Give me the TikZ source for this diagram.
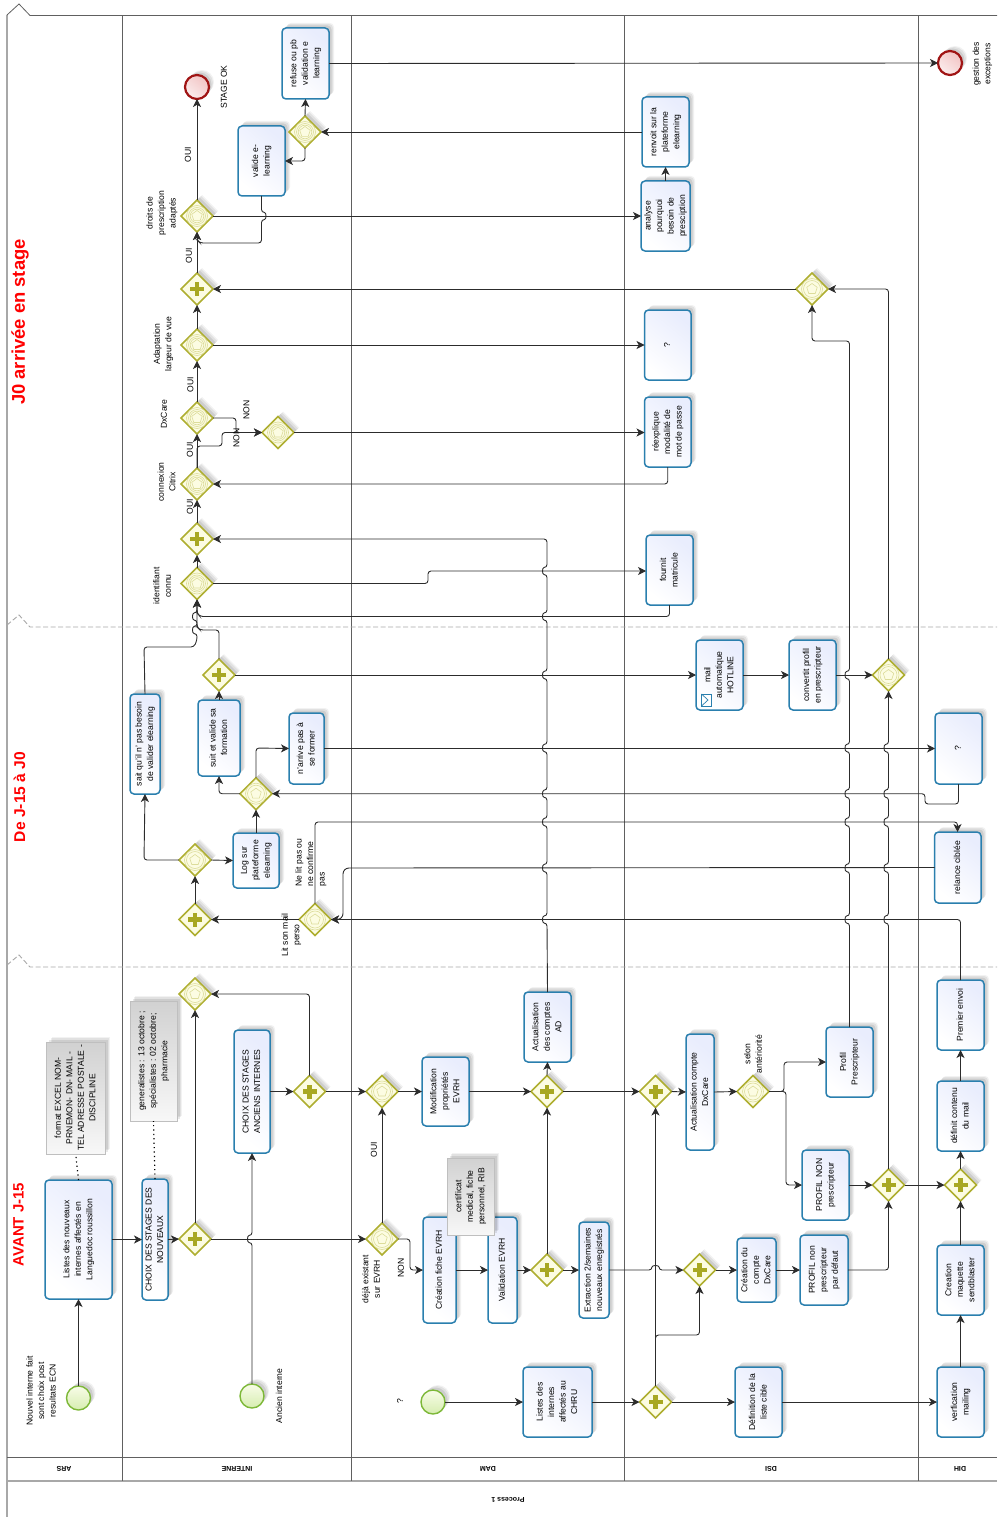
\documentclass[tikz,border=0pt]{standalone}
\usepackage{fontspec}
\usepackage{graphicx}
\setmainfont{Liberation Sans}
\usetikzlibrary{shapes.geometric,arrows.meta,shadows}
\definecolor{taskb}{HTML}{2A7FAE}
\definecolor{taskf}{HTML}{E9EDFD}
\definecolor{gwb}{HTML}{AEAE30}
\definecolor{gwf}{HTML}{FCFCE2}
\definecolor{gwi}{HTML}{DCDC9A}
\definecolor{gwc}{HTML}{A8A822}
\definecolor{lane}{HTML}{606060}
\definecolor{flowc}{HTML}{2C2C2C}
\definecolor{phase}{HTML}{A8A8A8}
\definecolor{titlered}{HTML}{FF0000}
\definecolor{startb}{HTML}{7DB838}
\definecolor{starta}{HTML}{D6EDB0}
\definecolor{startc}{HTML}{F8FCE8}
\definecolor{endb}{HTML}{A01414}
\definecolor{enda}{HTML}{F2C4C4}
\definecolor{endc}{HTML}{FBEDED}
\tikzset{
  softshadow/.style={
    general shadow={shadow xshift=5pt,shadow yshift=5pt,opacity=.05,fill=black},
    general shadow={shadow xshift=4pt,shadow yshift=4pt,opacity=.07,fill=black},
    general shadow={shadow xshift=2.5pt,shadow yshift=2.5pt,opacity=.09,fill=black}},
  bptask/.style={rectangle,rounded corners=4pt,draw=taskb,line width=1.5pt,softshadow,
    shading=axis,top color=taskf,bottom color=white,shading angle=-40,
    inner sep=0pt,outer sep=0pt,font=\txt},
  gwnode/.style={diamond,draw=gwb,line width=1.5pt,fill=gwf,softshadow,minimum width=32pt,minimum height=32pt,
    aspect=1,inner sep=0pt,outer sep=0pt},
  startev/.style={circle,draw=startb,line width=1.4pt,softshadow,minimum size=24pt,inner sep=0pt,outer sep=0pt,
    shading=axis,top color=startc,bottom color=starta,shading angle=0},
  endev/.style={circle,draw=endb,line width=2.2pt,softshadow,minimum size=24pt,inner sep=0pt,outer sep=0pt,
    shading=axis,top color=enda,bottom color=endc,shading angle=-40},
  notebox/.style={rectangle,draw=black!25,line width=.6pt,softshadow,shading=axis,top color=black!18,bottom color=black!3,
    shading angle=0,inner sep=0pt,outer sep=0pt,font=\txt},
  flow/.style={draw=flowc,line width=.9pt,rounded corners=3pt,-{Stealth[length=8pt,width=8pt,inset=2.2pt]}},
  assoc/.style={draw=black,line width=1.2pt,dash pattern=on 1.2pt off 3.2pt},
  lab/.style={rotate=90,align=center,inner sep=0pt,outer sep=0pt,font=\txt},
  lanehead/.style={rotate=180,inner sep=0pt,outer sep=0pt,font=\hdr},
  lanel/.style={draw=lane,line width=.9pt},
  phasel/.style={draw=phase,line width=.9pt,dash pattern=on 5pt off 2.5pt},
  gwicon/.style={draw=gwi,line width=.6pt},
  titlelab/.style={rotate=90,text=titlered,inner sep=0pt,outer sep=0pt}
}
\newcommand\txt{\fontsize{8.6}{11.5}\selectfont}
\newcommand\hdr{\fontsize{7}{8}\selectfont\bfseries}
\newcommand\rt[1]{\rotatebox{90}{\begin{tabular}{@{}c@{}}#1\end{tabular}}}
% task: name x1 y1 x2 y2 text
\newcommand\bptasknode[6]{\node[bptask,minimum width={(#4-#2)*1pt},minimum height={(#5-#3)*1pt}] (#1) at ({(#2+#4)/2},{(#3+#5)/2}) {\rt{#6}};}
\newcommand\notenode[6]{\node[notebox,minimum width={(#4-#2)*1pt},minimum height={(#5-#3)*1pt}] (#1) at ({(#2+#4)/2},{(#3+#5)/2}) {\rt{#6}};}
\newcommand\gwplus[3]{\node[gwnode] (#1) at (#2,#3) {};
  \fill[gwc] (#2-7,#3-2.3) rectangle (#2+7,#3+2.3);
  \fill[gwc] (#2-2.3,#3-7) rectangle (#2+2.3,#3+7);}
\newcommand\gwring[3]{\node[gwnode] (#1) at (#2,#3) {};
  \draw[gwicon] (#2,#3) circle[radius=10.5];
  \draw[gwicon] (#2,#3) circle[radius=8.5];
  \draw[gwicon] (#2,#3)+(270:5.5)--+(198:5.5)--+(126:5.5)--+(54:5.5)--+(342:5.5)--cycle;}
\newcommand\gwringb[3]{\gwring{#1}{#2}{#3}
  \draw[gwicon] (#2,#3) circle[radius=6.8];}
\newcommand\hu[2]{-- (#1,#2+3.5) .. controls (#1-5,#2+3.5) and (#1-5,#2-3.5) .. (#1,#2-3.5)}
\newcommand\hd[2]{-- (#1,#2-3.5) .. controls (#1+5,#2-3.5) and (#1+5,#2+3.5) .. (#1,#2+3.5)}
\newcommand\hr[2]{-- (#1-3.5,#2) .. controls (#1-3.5,#2-5) and (#1+3.5,#2-5) .. (#1+3.5,#2)}
\begin{document}
\begin{tikzpicture}[x=1pt,y=-1pt]
\useasboundingbox (0,0) rectangle (997,1517);
% ---- pool and lanes
\draw[phase,line width=1.6pt] (7,15) -- (7,1517);
\draw[draw=lane,line width=.8pt] (7,15) -- (19,4) -- (30,15.5) -- (997,15.5);
\draw[lanel] (7,1457) -- (997,1457);
\draw[draw=phase,line width=1.4pt] (7,1481) -- (997,1481);
\foreach \lx in {122,351.5,624.5,918}{\draw[lanel] (\lx,15.5) -- (\lx,1481);}
\draw[phasel] (7,625) -- (19,615) -- (30,627) -- (997,627);
\draw[phasel] (7,965) -- (19,955) -- (30,967) -- (997,967);
% ---- headers
\node[lanehead] (hars) at (64,1469) {ARS};
\node[lanehead] (hint) at (237,1469) {INTERNE};
\node[lanehead] (hdam) at (488,1469) {DAM};
\node[lanehead] (hdsi) at (771,1469) {DSI};
\node[lanehead] (hdih) at (960,1469) {DIH};
\node[lanehead] (hproc) at (508,1500) {Process 1};
\node[titlelab,font=\fontsize{15}{16}\selectfont\bfseries] (t1) at (18.5,1224.5) {AVANT J-15};
\node[titlelab,font=\fontsize{15.6}{17}\selectfont\bfseries] (t2) at (19.5,797) {De J-15 à J0};
\node[titlelab,font=\fontsize{18.4}{20}\selectfont\bfseries] (t3) at (20,322) {J0 arrivée en stage};
% ---- events
\node[startev] (s1) at (78.5,1398) {};
\node[startev] (s2) at (252,1396) {};
\node[startev] (s3) at (433,1402) {};
\node[endev] (e1) at (197,87) {};
\node[endev] (e2) at (950,63) {};
% ---- tasks
\bptasknode{listes}{45}{1180}{112}{1299}{Listes des nouveaux\\internes affectés en\\Languedoc roussillon}
\bptasknode{choixn}{142}{1179}{168}{1300}{CHOIX DES STAGES DES\\NOUVEAUX}
\bptasknode{choixa}{234}{1030}{270}{1153}{CHOIX DES STAGES\\ANCIENS INTERNES}
\bptasknode{modif}{422}{1057}{469}{1126}{Modification\\propriétés\\EVRH}
\bptasknode{creaf}{423}{1217}{456}{1323}{Création fiche EVRH}
\bptasknode{valid}{488}{1217}{517}{1323}{Validation EVRH}
\bptasknode{actad}{524}{992}{571}{1062}{Actualisation\\des comptes\\AD}
\bptasknode{extr}{579}{1222}{609}{1318}{Extraction 2/semaines\\nouveaux enregistrés}
\bptasknode{linter}{523}{1367}{592}{1437}{Listes des\\internes\\affectés au\\CHRU}
\bptasknode{actdx}{686}{1034}{714}{1150}{Actualisation compte\\DxCare}
\bptasknode{pp}{826}{1027}{873}{1097}{Profil\\Prescripteur}
\bptasknode{pnon}{802}{1150}{849}{1220}{PROFIL NON\\prescripteur}
\bptasknode{ccompte}{737}{1238}{776}{1302}{Création du\\compte\\DxCare}
\bptasknode{pdef}{800}{1235}{848}{1305}{PROFIL non\\prescripteur\\par défaut}
\bptasknode{defl}{735}{1367}{782}{1437}{Définition de la\\liste cible}
\bptasknode{verif}{937}{1367}{984}{1437}{verfication\\mailing}
\bptasknode{maq}{937}{1245}{984}{1315}{Creation\\maquette\\sendblaster}
\bptasknode{defc}{937}{1081}{984}{1151}{définit contenu\\du mail}
\bptasknode{prem}{937}{980}{984}{1050}{Premier envoi}
\bptasknode{sait}{130}{694}{160}{794}{sait qu'il n' pas besoin\\de valider elearning}
\bptasknode{suit}{198}{700}{240}{776}{suit et valide sa\\formation}
\bptasknode{arrive}{289}{713}{324}{784}{n'arrive pas à\\se former}
\bptasknode{logs}{233}{833}{279}{888}{Log sur\\plateforme\\elearning}
\bptasknode{mailh}{696}{640}{743}{710}{mail\\automatique\\HOTLINE}
\bptasknode{conv}{789}{640}{836}{710}{convertit profil\\en prescripteur}
\bptasknode{qa}{935}{713}{982}{784}{?}
\bptasknode{relance}{934.5}{832}{981}{903}{relance ciblée}
\bptasknode{refuse}{282}{28}{329}{99}{refuse  ou pb\\validation e\\learning}
\bptasknode{valel}{238}{126}{285}{196}{valide e-\\learning}
\bptasknode{renv}{642}{97}{689}{167}{renvoit sur la\\plateforme\\elearning}
\bptasknode{anal}{641}{181}{690}{251}{analyse\\pourquoi\\besoin de\\presciption}
\bptasknode{qb}{644.5}{310}{691}{380}{?}
\bptasknode{reex}{644.5}{397}{691}{467}{réexplique\\modalité de\\mot de passe}
\bptasknode{four}{646}{535}{693}{605}{fournit\\matricule}
% mail icon
\draw[taskb,line width=.7pt,fill=white] (701.5,694) rectangle (711,706);
\draw[taskb,line width=.7pt] (701.5,694) -- (708,700) -- (701.5,706);
% ---- gateways
\gwplus{pa}{195}{1239}
\gwring{gtop}{195}{994}
\gwplus{pb}{309.5}{1091.5}
\gwring{gx}{382}{1091.5}
\gwring{gd}{382}{1239}
\gwplus{pc}{547}{1091.5}
\gwplus{pd}{547}{1270}
\gwplus{pe}{655.5}{1091.5}
\gwplus{pf}{699.5}{1270}
\gwplus{pg}{655.5}{1402}
\gwring{gsel}{753}{1091.5}
\gwplus{ph}{888.5}{1185}
\gwplus{pi}{960.5}{1185}
\gwplus{pj}{219}{675}
\gwring{gl}{256}{793.7}
\gwring{gm}{195}{860}
\gwplus{pk}{195}{919.5}
\gwring{gn}{315}{919.5}
\gwring{go}{888.5}{675}
\gwringb{gp}{305}{132}
\gwringb{gq}{197}{216}
\gwplus{pl}{197}{289}
\gwringb{gad}{197}{345}
\gwringb{gdx}{197}{418}
\gwringb{gnon}{278}{432.5}
\gwringb{gco}{197}{484}
\gwplus{pm}{197}{539}
\gwringb{gid}{197}{583.5}
\gwring{gr}{812}{289}
% ---- connectors
\draw[flow] (s1) -- (listes);
\draw[flow] (listes.east) -- (choixn.west);
\draw[flow] (choixn.east) -- (pa.west);
\draw[flow] (pa.north) -- (gtop.south);
\draw[flow] (pa.east) -- (gd.west);
\draw[flow] (s2) \hu{252}{1239} -- (choixa.south);
\draw[flow] (choixa.east) -- (pb.west);
\draw[flow] (pb.north) -- (309.5,994) -- (gtop.east);
\draw[flow] (pb.east) -- (gx.west);
\draw[flow] (gd.north) -- (gx.south);
\draw[flow] (gd.east) -- (410,1239) -- (410,1270) -- (creaf.west);
\draw[flow] (gx.east) -- (modif.west);
\draw[flow] (modif.east) -- (pc.west);
\draw[flow] (creaf.east) -- (valid.west);
\draw[flow] (valid.east) -- (pd.west);
\draw[flow] (pd.north) -- (pc.south);
\draw[flow] (pd.east) -- (extr.west);
\draw[flow] (pc.north) -- (actad.south);
\draw[flow] (actad.north) \hu{547}{919.5} \hu{547}{868} \hu{547}{822} \hu{547}{793.7} \hu{547}{748} \hu{547}{675} \hu{547}{616.5} \hu{547}{571} -- (547,539) -- (pm.east);
\draw[flow] (pc.east) -- (pe.west);
\draw[flow] (extr.east) \hr{655.5}{1270} -- (pf.west);
\draw[flow] (s3) -- (linter.west);
\draw[flow] (linter.east) -- (pg.west);
\draw[flow] (pg.north) -- (pe.south);
\draw[flow] (pg.north) -- (655.5,1335) -- (699.5,1335) -- (pf.south);
\draw[flow] (pg.east) -- (defl.west);
\draw[flow] (defl.east) -- (verif.west);
\draw[flow] (verif.north) -- (maq.south);
\draw[flow] (maq.north) -- (pi.south);
\draw[flow] (pi.north) -- (defc.south);
\draw[flow] (defc.north) -- (prem.south);
\draw[flow] (prem.north) -- (960.5,919.5) -- (gn.east);
\draw[flow] (pe.east) -- (actdx.west);
\draw[flow] (actdx.east) -- (gsel.west);
\draw[flow] (gsel.east) -- (784,1091.5) -- (784,1062) -- (pp.west);
\draw[flow] (gsel.east) -- (786,1091.5) -- (786,1185) -- (pnon.west);
\draw[flow] (pp.north) \hu{849.5}{919.5} \hu{849.5}{868} \hu{849.5}{822} \hu{849.5}{793.7} \hu{849.5}{748} \hu{849.5}{675} -- (849.5,341) -- (812,341) -- (gr.south);
\draw[flow] (pnon.east) -- (ph.west);
\draw[flow] (pdef.east) -- (888.5,1270) -- (ph.south);
\draw[flow] (ccompte.east) -- (pdef.west);
\draw[flow] (pf.east) -- (ccompte.west);
\draw[flow] (ph.east) -- (pi.west);
\draw[flow] (ph.north) \hu{888.5}{919.5} \hu{888.5}{868} \hu{888.5}{822} \hu{888.5}{793.7} \hu{888.5}{748} -- (go.south);
\draw[flow] (conv.east) -- (go.west);
\draw[flow] (go.north) -- (888.5,289) -- (gr.east);
\draw[flow] (gr.west) -- (pl.east);
\draw[flow,rounded corners=6pt] (relance.west) -- (343,868) -- (343,919.5) -- (gn.east);
\draw[flow] (gn.north) -- (315,822) -- (957.5,822) -- (relance.north -| 957.5,832);
\draw[flow] (gn.west) -- (pk.east);
\draw[flow] (pk.north) -- (gm.south);
\draw[flow] (gm.east) -- (logs.west);
\draw[flow] (gm.west) -- (144,860) -- (sait.south);
\draw[flow] (logs.north) -- (gl.south);
\draw[flow] (gl.north) -- (256,748) -- (arrive.west);
\draw[flow] (gl.west) -- (219,793.7) -- (suit.south);
\draw[flow] (suit.north) -- (pj.south);
\draw[flow] (qa.south) -- (958.5,804) -- (925,804) -- (925,793.7) -- (gl.east);
\draw[flow] (arrive.east) -- (qa.west);
\draw[flow] (pj.east) -- (mailh.west);
\draw[flow] (mailh.east) -- (conv.west);
\draw[flow] (pj.north) -- (219,630) -- (200,630) -- (197,627) -- (gid.south);
\draw[flow] (sait.north) -- (144,647) -- (194,647) -- (197,640) \hu{197}{630} \hu{197}{616.5} -- (gid.south);
\draw[flow] (four.south) -- (669.5,616.5) -- (200,616.5) -- (197,613) -- (gid.south);
\draw[flow] (gid.east) -- (428,583.5) -- (428,571) -- (646,571);
\draw[flow] (gid.north) -- (pm.south);
\draw[flow] (pm.north) -- (gco.south);
\draw[flow] (gco.north) -- (gdx.south);
\draw[flow] (gdx.east) -- (236,418) -- (236,432.5) -- (gnon.west);
\draw[flow] (reex.south) -- (667.75,484) -- (gco.east);
\draw[flow] (gnon.east) -- (reex.west |- gnon.east);
\draw[flow] (gco.north) -- (197,446) -- (222,446) -- (222,432.5) -- (gnon.west);
\draw[flow] (gdx.north) -- (gad.south);
\draw[flow] (gad.north) -- (pl.south);
\draw[flow] (gad.east) -- (qb.west);
\draw[flow] (pl.north) -- (gq.south);
\draw[flow] (gq.north) -- (e1);
\draw[flow] (gq.east) -- (anal.west);
\draw[flow] (anal.north -| 665.5,181) -- (665.5,167);
\draw[flow] (renv.west) -- (gp.east);
\draw[flow] (gp.north) -- (refuse.south);
\draw[flow] (gp.south) -- (305,161) -- (valel.east);
\draw[flow] (valel.south) \hd{261.5}{216} -- (261.5,243) -- (200,243) -- (197,240) -- (gq.south);
\draw[flow] (refuse.east) -- (e2);
% ---- notes (over the tasks)
\notenode{na}{46.5}{1042}{105}{1154}{format EXCEL NOM-\\PRNEMON- DN- MAIL -\\TEL ADRESSE POSTALE -\\DISCIPLINE}
\notenode{nb}{130}{1001}{177}{1121}{generalistes : 13 octobre ;\\spécialistes : 02 octobre;\\pharmacie}
\notenode{nc}{447}{1158}{494}{1235}{certificat\\medical, fiche\\personnel, RIB}
\draw[assoc] (listes.north) -- (na.south);
\draw[assoc] (choixn.north) -- (nb.south);
% ---- labels
\node[lab] (l1) at (41,1391) {Nouvel interne fait\\sont choix post\\resultats ECN};
\node[lab] (l2) at (279,1396) {Ancien interne};
\node[lab] (l3) at (400,1401) {?};
\node[lab] (l4) at (371,1279) {déjà existant\\sur EVRH};
\node[lab] (l5) at (401,1268) {NON};
\node[lab] (l6) at (374,1150) {OUI};
\node[lab] (l7) at (753,1054) {selon\\antériorité};
\node[lab,align=left] (l8) at (311,862.5) {Ne lit pas ou\\ne confirme\\pas};
\node[lab] (l9) at (291.5,935) {Lit son mail\\perso};
\node[lab] (l10) at (162,213) {droits de\\prescription\\adaptés};
\node[lab] (l11) at (224,87) {STAGE OK};
\node[lab] (l12) at (188,155) {OUI};
\node[lab] (l13) at (189,256) {OUI};
\node[lab] (l14) at (163.5,344) {Adaptation\\largeur de vue};
\node[lab] (l15) at (190.5,385) {OUI};
\node[lab] (l16) at (164,414) {DxCare};
\node[lab] (l17) at (190,450) {OUI};
\node[lab] (l18) at (246.5,410) {NON};
\node[lab] (l19) at (236.5,438) {NON};
\node[lab] (l20) at (166.5,482) {connexion\\Citrix};
\node[lab] (l21) at (190,507) {OUI};
\node[lab] (l22) at (162,586) {identifiant\\connu};
\node[lab] (l23) at (982.5,64) {gestion des\\exceptions};
\end{tikzpicture}
\end{document}
